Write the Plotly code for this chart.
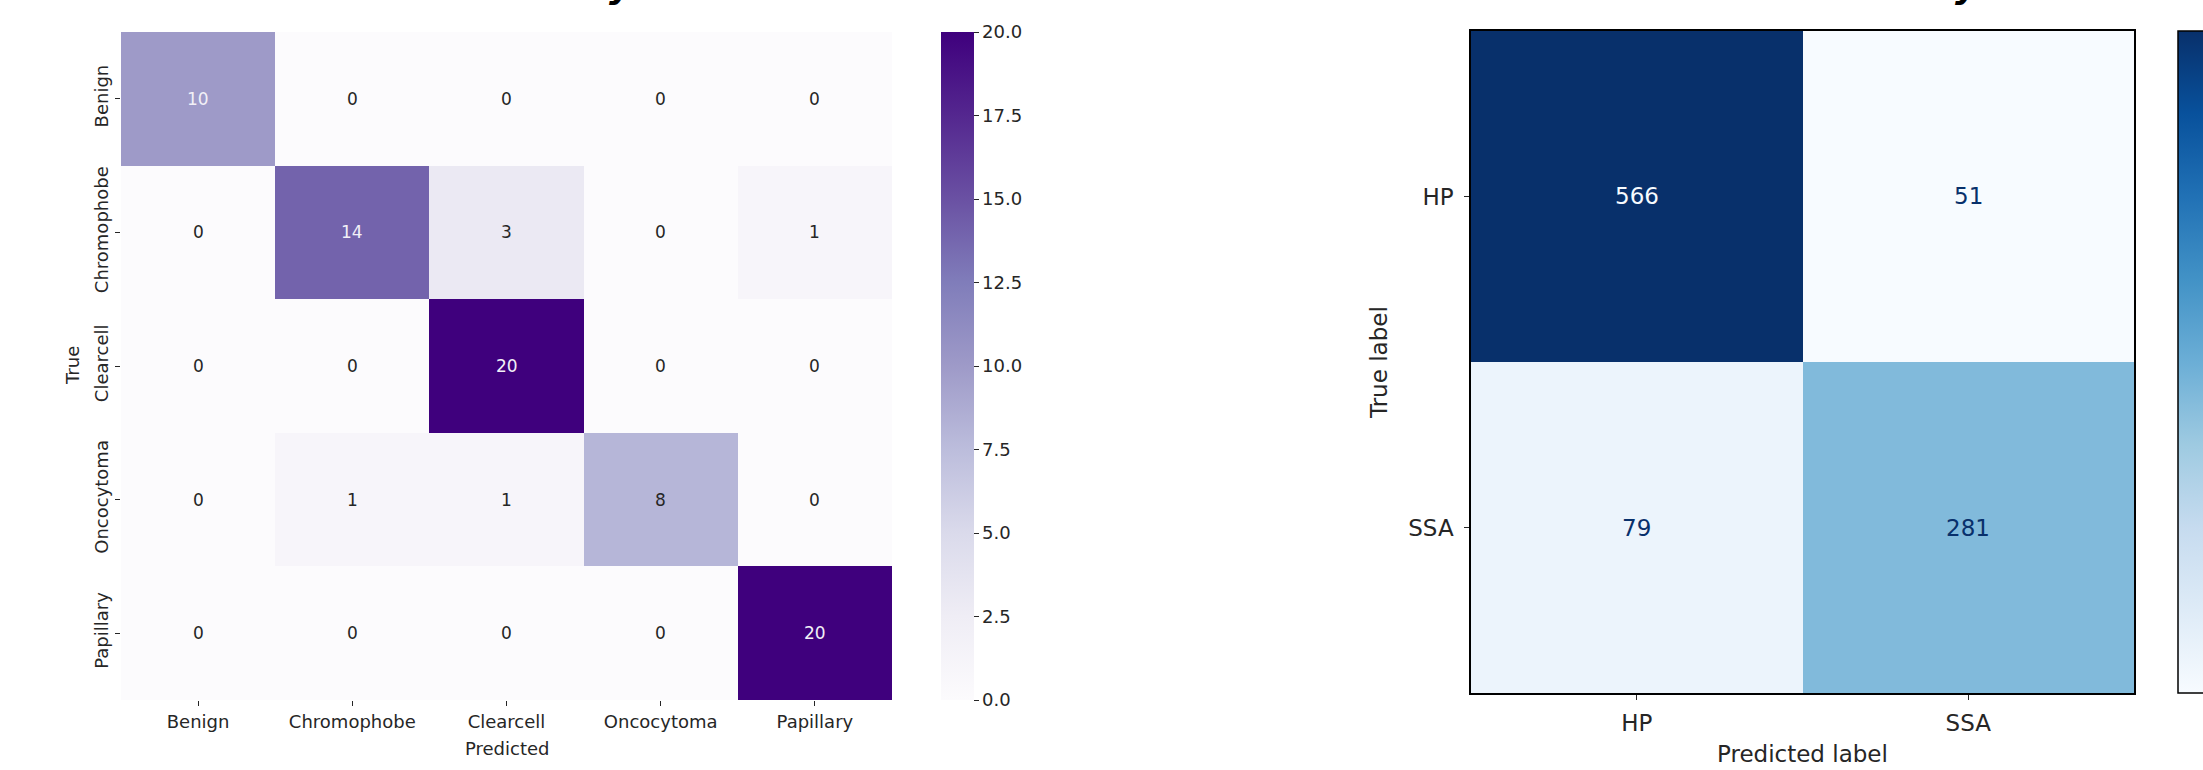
import plotly.graph_objects as go

W, H = 2203, 770

# ---- data ----
classes_left = ["Benign", "Chromophobe", "Clearcell", "Oncocytoma", "Papillary"]
cm_left = [
    [10, 0, 0, 0, 0],
    [0, 14, 3, 0, 1],
    [0, 0, 20, 0, 0],
    [0, 1, 1, 8, 0],
    [0, 0, 0, 0, 20],
]
classes_right = ["HP", "SSA"]
cm_right = [
    [566, 51],
    [79, 281],
]
left_cbar_ticks = [0, 2.5, 5, 7.5, 10, 12.5, 15, 17.5, 20]

purples = ["#fcfbfd", "#efedf5", "#dadaeb", "#bcbddc", "#9e9ac8",
           "#807dba", "#6a51a3", "#54278f", "#3f007d"]
blues = ["#f7fbff", "#deebf7", "#c6dbef", "#9ecae1", "#6baed6",
         "#4292c6", "#2171b5", "#08519c", "#08306b"]
purples_scale = [[i / 8, c] for i, c in enumerate(purples)]
blues_scale = [[i / 8, c] for i, c in enumerate(blues)]


def px_x(p):
    return p / W


def px_y(p):
    return 1 - p / H


FONT = "DejaVu Sans"
TXT = "#262626"

fig = go.Figure()

# left heatmap (seaborn style)
fig.add_trace(go.Heatmap(
    z=cm_left, x=classes_left, y=classes_left,
    colorscale=purples_scale, zmin=0, zmax=20,
    xaxis="x", yaxis="y", hoverinfo="skip",
    colorbar=dict(
        x=px_x(941), xanchor="left", xpad=0, ypad=0,
        y=px_y(700), yanchor="bottom",
        len=668, lenmode="pixels", thickness=33,
        outlinewidth=0, ticks="outside", ticklen=5, tickwidth=1.2,
        tickcolor=TXT, tickvals=left_cbar_ticks, tickformat=".1f",
        tickfont=dict(family=FONT, size=18, color=TXT),
    ),
))

# right heatmap (sklearn ConfusionMatrixDisplay style)
zmin_r = min(min(r) for r in cm_right)
zmax_r = max(max(r) for r in cm_right)
fig.add_trace(go.Heatmap(
    z=cm_right, x=classes_right, y=classes_right,
    colorscale=blues_scale, zmin=zmin_r, zmax=zmax_r,
    xaxis="x2", yaxis="y2", hoverinfo="skip",
    colorbar=dict(
        x=px_x(2178), xanchor="left", xpad=0, ypad=0,
        y=px_y(693), yanchor="bottom",
        len=662, lenmode="pixels", thickness=33,
        outlinewidth=1.5, outlinecolor="black",
        ticks="", showticklabels=False,
    ),
))

annotations = []
# left cell numbers
for i, row in enumerate(cm_left):
    for j, v in enumerate(row):
        annotations.append(dict(
            x=classes_left[j], y=classes_left[i], xref="x", yref="y",
            xanchor="center", yanchor="middle",
            text=str(v), showarrow=False,
            font=dict(family=FONT, size=17,
                      color="#f2f0f7" if v >= 10 else TXT),
        ))
# right cell numbers
for i, row in enumerate(cm_right):
    for j, v in enumerate(row):
        frac = (v - zmin_r) / (zmax_r - zmin_r)
        annotations.append(dict(
            x=classes_right[j], y=classes_right[i], xref="x2", yref="y2",
            xanchor="center", yanchor="middle",
            text=str(v), showarrow=False,
            font=dict(family=FONT, size=23,
                      color=blues[0] if frac > 0.5 else blues[-1]),
        ))

# axis titles
def title(x, y, text, size, angle=0):
    return dict(x=px_x(x), y=px_y(y), xref="paper", yref="paper",
                xanchor="center", yanchor="middle", text=text,
                textangle=angle, showarrow=False,
                font=dict(family=FONT, size=size, color=TXT))


annotations += [
    title(72, 366, "True", 18, -90),
    title(507, 748, "Predicted", 18),
    title(1379, 363, "True label", 23, -90),
    title(1802, 754, "Predicted label", 23),
]
# cut-off titles (only descenders visible)
for xc in (621, 1967):
    annotations.append(dict(
        x=px_x(xc), y=px_y(8), xref="paper", yref="paper",
        xanchor="center", yanchor="bottom",
        text="<b><i>y</i></b>", showarrow=False,
        font=dict(family=FONT, size=36, color="black"),
    ))

axis_common = dict(showgrid=False, zeroline=False, ticks="outside",
                   ticklen=5, tickwidth=1.2, tickcolor=TXT)

fig.update_layout(
    width=W, height=H,
    margin=dict(l=0, r=0, t=0, b=0, autoexpand=False),
    paper_bgcolor="white", plot_bgcolor="white",
    font=dict(family=FONT, color=TXT),
    xaxis=dict(domain=[px_x(121), px_x(892)], anchor="y",
               tickfont=dict(family=FONT, size=18, color=TXT),
               showline=False, **axis_common),
    yaxis=dict(domain=[px_y(700), px_y(32)], anchor="x", autorange="reversed",
               tickangle=-90, tickfont=dict(family=FONT, size=18, color=TXT),
               showline=False, **axis_common),
    xaxis2=dict(domain=[px_x(1471), px_x(2134)], anchor="y2",
                tickfont=dict(family=FONT, size=23, color=TXT),
                ticklabelstandoff=4,
                showline=True, mirror=True, linecolor="black", linewidth=1.5,
                **axis_common),
    yaxis2=dict(domain=[px_y(693), px_y(31)], anchor="x2", autorange="reversed",
                tickfont=dict(family=FONT, size=23, color=TXT),
                ticklabelstandoff=6,
                showline=True, mirror=True, linecolor="black", linewidth=1.5,
                **axis_common),
    annotations=annotations,
)

fig.write_html("out.html")
